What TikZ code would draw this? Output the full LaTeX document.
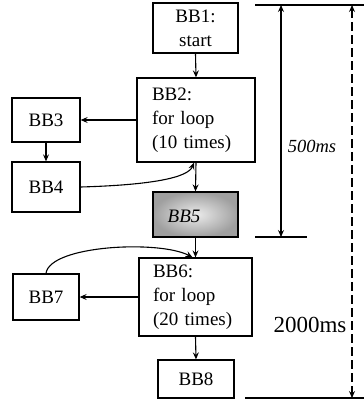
\documentclass[tikz,border=0pt]{standalone}
\usepackage{fontspec}
\setmainfont{Liberation Serif}
\usetikzlibrary{arrows.meta}
\begin{document}
\begin{tikzpicture}[x=1pt,y=-1pt,
  bb/.style={draw, line width=1.3pt, inner sep=0pt, align=left,
    font=\fontsize{19}{24}\selectfont},
  arr/.style={line width=1.1pt, -{Stealth[length=7pt,width=6pt,inset=2.5pt]}},
  dim/.style={line width=1.1pt, {Stealth[length=7pt,width=6pt,inset=2.5pt]}-{Stealth[length=7pt,width=6pt,inset=2.5pt]}},
  rule/.style={line width=1.1pt}]
\useasboundingbox (0,0) rectangle (364,399);
\node[bb, minimum width=85pt, minimum height=50pt, align=center] (BB1) at (195.5,28) {BB1:\\start};
\node[bb, minimum width=118pt, minimum height=84pt, text width=88pt] (BB2) at (196,120) {BB2:\\for loop\\(10 times)};
\node[bb, minimum width=68pt, minimum height=44pt] (BB3) at (46,120) {BB3};
\node[bb, minimum width=68pt, minimum height=50pt] (BB4) at (46,187) {BB4};
\node[bb, minimum width=85pt, minimum height=45pt, inner color=gray!15, outer color=gray!75] (BB5) at (195.5,214.5) {};
\node[font=\fontsize{19}{24}\selectfont\itshape] (t5) at (184,216) {BB5};
\node[bb, minimum width=113pt, minimum height=78pt, text width=85pt] (BB6) at (195.5,297) {BB6:\\for loop\\(20 times)};
\node[bb, minimum width=66pt, minimum height=46pt] (BB7) at (46,297) {BB7};
\node[bb, minimum width=76pt, minimum height=38pt] (BB8) at (196,379) {BB8};

\draw[arr] (BB1.south) -- (BB2.north);
\draw[arr] (BB2.west) -- (BB3.east);
\draw[arr] (BB3.south) -- (BB4.north);
\draw[arr] (BB4.east) .. controls (150,185) and (188,178) .. ([xshift=-2pt]BB2.south);
\draw[arr] (BB2.south) -- (BB5.north);
\draw[arr] (BB5.south) -- (BB6.north);
\draw[arr] (BB7.north) .. controls (50,245) and (160,240) .. ([xshift=-3pt]BB6.north);
\draw[arr] (BB6.west) -- (BB7.east);
\draw[arr] (BB6.south) -- (BB8.north);

\coordinate (tl) at (255,5);
\coordinate (tr) at (364,5);
\coordinate (ma) at (281,5);
\coordinate (mb) at (281,237);
\coordinate (ml) at (255,237);
\coordinate (mr) at (307,237);
\coordinate (da) at (352,5);
\coordinate (db) at (352,398);
\coordinate (bl) at (245,398);
\coordinate (br) at (364,398);
\draw[rule] (tl) -- (tr);
\draw[rule] (ml) -- (mr);
\draw[rule] (bl) -- (br);
\draw[dim] (ma) -- (mb);
\draw[dim, dash pattern=on 9pt off 4pt] (da) -- (db);
\node[font=\fontsize{18.5}{22}\selectfont\itshape] (l500) at (312,146) {500ms};
\node[font=\fontsize{23}{26}\selectfont] (l2000) at (310,325) {2000ms};
\end{tikzpicture}
\end{document}
